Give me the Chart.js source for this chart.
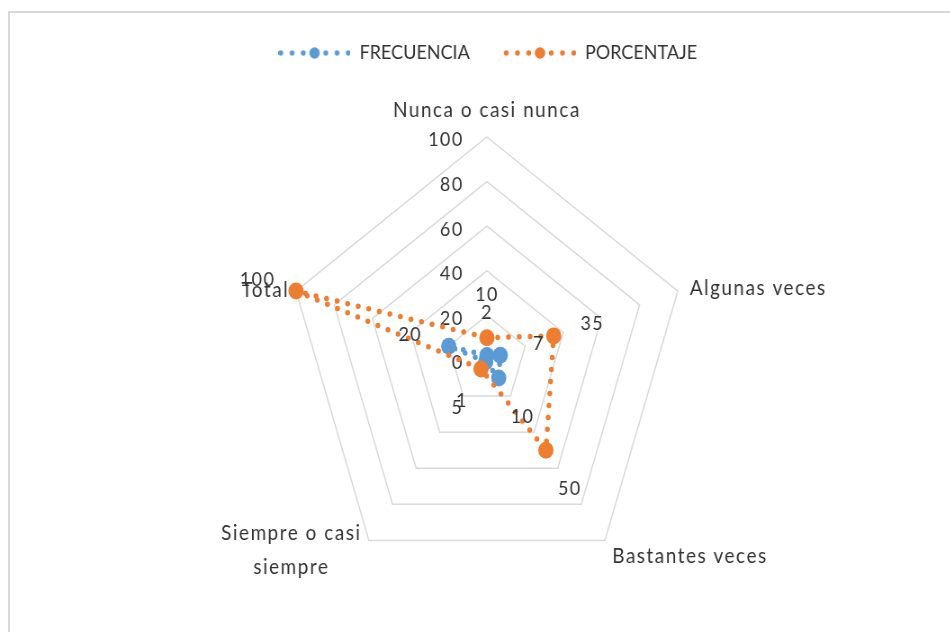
<!DOCTYPE html>
<html>
<head>
<meta charset="utf-8">
<script src="https://cdn.jsdelivr.net/npm/chart.js@4.4.1/dist/chart.umd.min.js"></script>
<style>
    html, body { margin: 0; padding: 0; background: #fff; overflow: hidden; }
    #frame { position: absolute; left: 8px; top: 11px; width: 960px; height: 640px;
             border-left: 2px solid #d9d9d9; border-top: 2px solid #d9d9d9; }
    /* the original picture is squeezed horizontally, so draw wider and squeeze */
    #wrap { position: absolute; left: 0; top: 0; width: 1056px; height: 632px;
            transform: scaleX(0.9); transform-origin: 0 0; }
</style>
</head>
<body>
<div id="frame"></div>
<div id="wrap"><canvas id="radar" width="1056" height="632"></canvas></div>
<script>
const categories = ['Nunca o casi nunca', 'Algunas veces', 'Bastantes veces', ['Siempre o casi', 'siempre'], 'Total'];
const frecuencia = [2, 7, 10, 1, 20];
const porcentaje = [10, 35, 50, 5, 100];
const tickValues = [0, 20, 40, 60, 80, 100];

const BLUE = '#5b9bd5';
const ORANGE = '#ed7d31';
const TEXT = '#333333';
const FONT = 'Lato, "Open Sans", sans-serif';

// where each category label sits, relative to the outer vertex
const labelPlace = [
    { pad: 14, align: 'center', base: 'alphabetic', dy: -6 },
    { pad: 14, align: 'left', base: 'middle', dy: 1 },
    { pad: 14, align: 'left', base: 'middle', dy: 4 },
    { pad: 14, align: 'center', base: 'alphabetic', dy: -12 },
    { pad: 8, align: 'right', base: 'middle', dy: 2 }
];

function legendSwatch(color) {
    var c = document.createElement('canvas');
    c.width = 80; c.height = 12;
    var g = c.getContext('2d');
    g.fillStyle = color;
    [-37.5, -25, -12.5, 12.5, 25, 37.5].forEach(function (dx) {
        g.beginPath(); g.arc(40 + dx, 6, 2.7, 0, Math.PI * 2); g.fill();
    });
    g.beginPath(); g.arc(40, 6, 5.8, 0, Math.PI * 2); g.fill();
    return c;
}
const swatches = [legendSwatch(BLUE), legendSwatch(ORANGE)];

const axisText = {
    id: 'axisText',
    beforeDatasetsDraw: function (chart) {
        var ctx = chart.ctx, scale = chart.scales.r;
        ctx.save();
        ctx.fillStyle = TEXT;

        // value axis labels, left of the top spoke
        ctx.font = '20px ' + FONT;
        ctx.letterSpacing = '1.5px';
        ctx.textAlign = 'right';
        ctx.textBaseline = 'middle';
        tickValues.forEach(function (v) {
            var p = scale.getPointPositionForValue(0, v);
            ctx.fillText(String(v), p.x - 26, p.y + 3);
        });

        // category labels
        ctx.font = '21px ' + FONT;
        ctx.letterSpacing = '1.7px';
        categories.forEach(function (label, i) {
            var pl = labelPlace[i];
            var p = scale.getPointPosition(i, scale.drawingArea + pl.pad);
            ctx.textAlign = pl.align;
            ctx.textBaseline = pl.base;
            if (Array.isArray(label)) {
                var w = ctx.measureText(label[0]).width;
                label.forEach(function (line, k) {
                    ctx.fillText(line, p.x - w / 2, p.y + pl.dy + k * 34);
                });
            } else {
                ctx.fillText(label, p.x, p.y + pl.dy);
            }
        });
        ctx.restore();
    },
    afterDatasetsDraw: function (chart) {
        var ctx = chart.ctx, scale = chart.scales.r;
        ctx.save();
        ctx.fillStyle = TEXT;
        ctx.font = '20px ' + FONT;
        ctx.letterSpacing = '1.5px';
        ctx.textAlign = 'center';
        ctx.textBaseline = 'middle';
        chart.data.datasets.forEach(function (ds) {
            ds.data.forEach(function (v, i) {
                var d = scale.getDistanceFromCenterForValue(v);
                var p = scale.getPointPosition(i, d + 45);
                ctx.fillText(String(v), p.x, p.y + 2);
            });
        });
        ctx.restore();
    }
};

function lineSet(label, data, color, order) {
    return {
        label: label,
        data: data,
        order: order,
        borderColor: color,
        backgroundColor: color,
        borderWidth: 5.5,
        borderDash: [0, 12],
        borderCapStyle: 'round',
        fill: false,
        tension: 0,
        pointRadius: 8.5,
        pointBorderWidth: 0,
        pointBackgroundColor: color
    };
}

new Chart(document.getElementById('radar'), {
    type: 'radar',
    data: {
        labels: categories,
        datasets: [
            lineSet('FRECUENCIA', frecuencia, BLUE, 2),
            lineSet('PORCENTAJE', porcentaje, ORANGE, 1)
        ]
    },
    options: {
        responsive: false,
        animation: false,
        events: [],
        layout: { padding: { top: 5, left: 28 } },
        plugins: {
            tooltip: { enabled: false },
            legend: {
                position: 'top',
                labels: {
                    usePointStyle: true,
                    pointStyleWidth: 80,
                    padding: 38,
                    color: TEXT,
                    font: { family: FONT, size: 20 },
                    generateLabels: function (chart) {
                        return chart.data.datasets.map(function (ds, i) {
                            return {
                                text: ds.label,
                                pointStyle: swatches[i],
                                fillStyle: ds.borderColor,
                                strokeStyle: ds.borderColor,
                                lineWidth: 0,
                                fontColor: TEXT,
                                hidden: false,
                                datasetIndex: i
                            };
                        });
                    }
                }
            }
        },
        scales: {
            r: {
                min: 0,
                max: 100,
                ticks: { display: false, stepSize: 20 },
                grid: { color: '#d9d9d9', lineWidth: 1.5 },
                angleLines: { display: false },
                pointLabels: { display: false },
                afterFit: function (scale) {
                    scale.xCenter = 541;
                    scale.yCenter = 360;
                    scale.drawingArea = 223;
                }
            }
        }
    },
    plugins: [axisText]
});
</script>
</body>
</html>
